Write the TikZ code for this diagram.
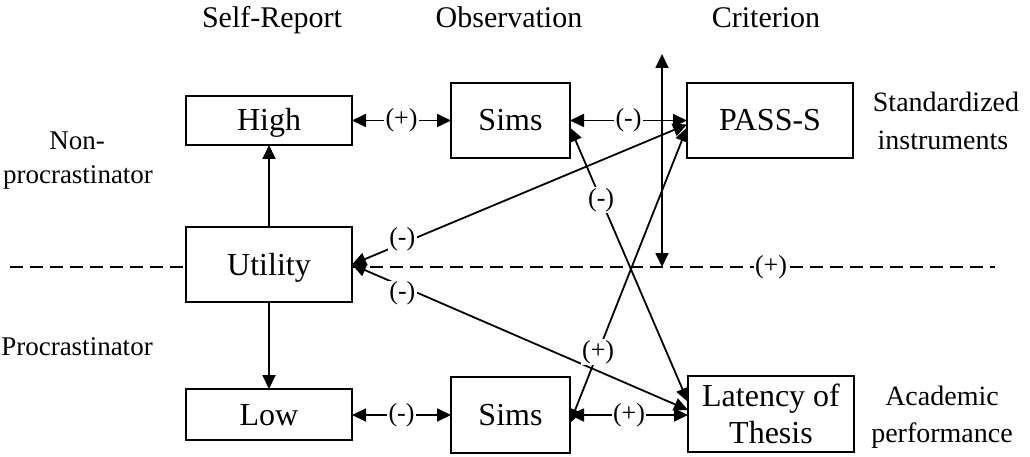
\documentclass[tikz,border=0pt]{standalone}
\usepackage{fontspec}
\setmainfont{Liberation Serif}
\usetikzlibrary{arrows.meta}
\begin{document}
\begin{tikzpicture}[x=1pt,y=-1pt,
  every node/.style={inner sep=0pt, outer sep=0pt},
  box/.style={draw, line width=1.8pt, fill=white, font=\fontsize{32}{37}\selectfont,
    text height=21pt, text depth=0pt},
  head/.style={font=\fontsize{30}{34}\selectfont, anchor=base},
  side/.style={font=\fontsize{27}{33}\selectfont, anchor=base},
  crit/.style={font=\fontsize{28}{38}\selectfont, anchor=base},
  sign/.style={fill=white, font=\fontsize{26}{30}\selectfont, inner xsep=1.5pt, inner ysep=1pt},
  link/.style={line width=1.8pt, {Triangle[length=14pt,width=13pt]}-{Triangle[length=14pt,width=13pt]}},
  one/.style={line width=1.8pt, -{Triangle[length=14pt,width=13pt]}},
  divider/.style={line width=1.8pt, dash pattern=on 13pt off 7pt}
]
\useasboundingbox (0,0) rectangle (1030,457);

% column headings
\node[head] (hself) at (272,28) {Self-Report};
\node[head] (hobs) at (509,28) {Observation};
\node[head] (hcrit) at (766,28) {Criterion};

% group labels on the left
\node[side] (non1) at (77,150) {Non-};
\node[side] (non2) at (78,183) {procrastinator};
\node[side] (pro) at (77,355) {Procrastinator};

% criterion labels on the right
\node[crit] (std1) at (946,112) {Standardized};
\node[crit] (std2) at (943,150) {instruments};
\node[crit] (aca1) at (942,405) {Academic};
\node[crit] (aca2) at (942,442) {performance};

% dividing line between the two groups
\coordinate (dl) at (10,267);
\coordinate (dr) at (995,267);
\draw[divider] (dl) -- (dr) node[sign, pos=0.7726] (dplus) {(+)};

% measures
\node[box, minimum width=166pt, minimum height=49pt] (high) at (269,120.5) {High};
\node[box, minimum width=166pt, minimum height=75pt] (utility) at (269,264.5) {Utility};
\node[box, minimum width=166pt, minimum height=51pt] (low) at (269,414.5) {Low};
\node[box, minimum width=119pt, minimum height=75pt] (simsT) at (510.5,120.5) {Sims};
\node[box, minimum width=119pt, minimum height=76pt] (simsB) at (510.5,415) {Sims};
\node[box, minimum width=166pt, minimum height=75pt] (pass) at (770,120.5) {PASS-S};
\node[box, minimum width=166pt, minimum height=76pt, align=center,
  text height=58pt, text depth=0pt] (lat) at (771,414) {Latency of\\Thesis};

% self-report split
\draw[one] (utility.north) -- (high.south);
\draw[one] (utility.south) -- (low.north);

% horizontal relations
\draw[link] (high.east) -- (simsT.west) node[sign, midway] (s1) {(+)};
\draw[link] (simsT.east) -- (pass.west) node[sign, midway] (s2) {(-)};
\draw[link] (simsB.west -| low.east) -- (simsB.west) node[sign, midway] (s3) {(-)};
\draw[link] (simsB.east) -- (lat.west |- simsB.east) node[sign, midway] (s4) {(+)};

% vertical axis of the criterion column
\coordinate (vtop) at (662,54);
\coordinate (vbot) at (662,267);
\draw[link] (vbot) -- (vtop);

% diagonal relations
\draw[link] (utility.east) -- ([yshift=-4pt]pass.west) node[sign, pos=0.15, yshift=4pt] (d1) {(-)};
\draw[link] (utility.east) -- ([yshift=4pt]lat.west) node[sign, pos=0.15, yshift=-7pt] (d2) {(-)};
\draw[link] ([yshift=-7pt]simsT.east) -- ([yshift=12pt]lat.west) node[sign, pos=0.264] (d3) {(-)};
\draw[link] ([yshift=-8pt]simsB.east) -- ([yshift=-7pt]pass.west) node[sign, pos=0.24] (d4) {(+)};
\end{tikzpicture}
\end{document}
